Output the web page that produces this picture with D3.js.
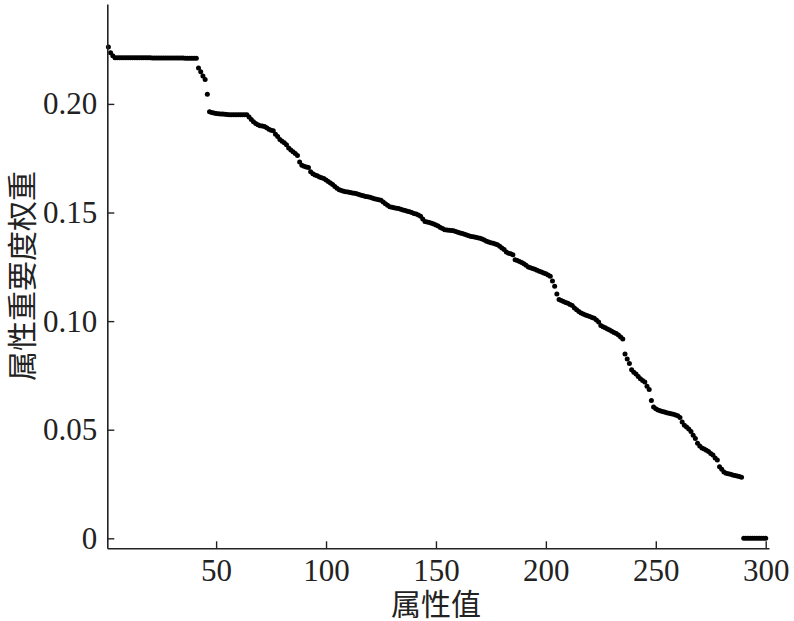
<!DOCTYPE html>
<html>
<head>
<meta charset="utf-8">
<script src="https://cdn.jsdelivr.net/npm/d3@7"></script>
<style>
  body { margin: 0; background: #fff; }
  svg { display: block; }
  .tick-label { font-family: "Liberation Serif", "DejaVu Serif", serif; font-size: 31px; fill: #222; }
  .axis-title { font-family: "Noto Sans CJK SC", sans-serif; font-size: 30px; fill: #222; }
</style>
</head>
<body>
<div id="chart"></div>
<script>
// attribute importance weights, sorted (index 1..300)
var weights = [
  0.2262, 0.2235, 0.2222,
  0.2212, 0.2212, 0.2212, 0.2212, 0.2212, 0.2212, 0.2212, 0.2212, 0.2212, 0.2212,
  0.2212, 0.2212, 0.2212, 0.2212, 0.2212, 0.2212, 0.2212, 0.2211, 0.2211, 0.2211,
  0.2211, 0.2211, 0.2211, 0.2211, 0.2211, 0.2211, 0.2211, 0.2211, 0.2211, 0.2211,
  0.2211, 0.2211, 0.2210, 0.2210, 0.2210, 0.2210, 0.2210, 0.2210,
  0.2165, 0.2148, 0.2128, 0.2112, 0.2045,
  0.1964, 0.1960, 0.1958, 0.1956, 0.1955, 0.1954, 0.1953, 0.1952, 0.1951,
  0.1950, 0.1950, 0.1950, 0.1950, 0.1950, 0.1950, 0.1950, 0.1950, 0.1950,
  0.1940, 0.1928, 0.1918, 0.1910, 0.1904, 0.1900, 0.1898, 0.1896, 0.1890, 0.1883,
  0.1879, 0.1877, 0.1860, 0.1850, 0.1836, 0.1828, 0.1821, 0.1812, 0.1797, 0.1788,
  0.1780, 0.1772, 0.1762, 0.1732, 0.1718, 0.1713, 0.1710, 0.1707, 0.1688, 0.1679,
  0.1673, 0.1669, 0.1664, 0.1660, 0.1657, 0.1650,
  0.1643, 0.1636, 0.1629, 0.1620, 0.1612, 0.1605, 0.1601, 0.1598, 0.1596, 0.1594,
  0.1592, 0.1590, 0.1589, 0.1586, 0.1583, 0.1580, 0.1577, 0.1574, 0.1572, 0.1570,
  0.1567, 0.1563, 0.1561, 0.1559, 0.1557, 0.1548, 0.1540, 0.1533, 0.1527, 0.1524,
  0.1522, 0.1520, 0.1518, 0.1515, 0.1512, 0.1509, 0.1506, 0.1504, 0.1500, 0.1496,
  0.1493, 0.1489, 0.1483, 0.1470, 0.1459, 0.1456, 0.1454, 0.1451, 0.1447, 0.1443,
  0.1438, 0.1431, 0.1426, 0.1421, 0.1419, 0.1418, 0.1417, 0.1416, 0.1413, 0.1409,
  0.1406, 0.1403, 0.1400, 0.1397, 0.1393, 0.1390, 0.1388, 0.1386, 0.1384, 0.1381,
  0.1378, 0.1373, 0.1368, 0.1364, 0.1361, 0.1358, 0.1355, 0.1351, 0.1345, 0.1337,
  0.1330, 0.1318, 0.1313, 0.1310, 0.1306, 0.1283, 0.1279, 0.1275, 0.1270, 0.1264,
  0.1257, 0.1249, 0.1246, 0.1242, 0.1239, 0.1234, 0.1229, 0.1226, 0.1222, 0.1218,
  0.1212, 0.1206, 0.1185, 0.1160, 0.1125, 0.1100, 0.1095, 0.1090, 0.1086, 0.1082,
  0.1077, 0.1072, 0.1060, 0.1052, 0.1044, 0.1037, 0.1033, 0.1028, 0.1025, 0.1021,
  0.1017, 0.1013, 0.1005, 0.0996, 0.0980, 0.0974, 0.0969, 0.0964, 0.0959, 0.0953,
  0.0948, 0.0943, 0.0936, 0.0927, 0.0918, 0.0849, 0.0825, 0.0805, 0.0776, 0.0765,
  0.0757, 0.0745, 0.0735, 0.0727, 0.0720, 0.0700, 0.0685, 0.0634, 0.0605, 0.0596,
  0.0591, 0.0587, 0.0584, 0.0581, 0.0578, 0.0576, 0.0574, 0.0571, 0.0568, 0.0564,
  0.0556, 0.0535, 0.0520, 0.0512, 0.0503, 0.0492, 0.0475, 0.0460, 0.0438, 0.0425,
  0.0416, 0.0411, 0.0406, 0.0400, 0.0391, 0.0383, 0.0370, 0.0360, 0.0330, 0.0318,
  0.0305, 0.0300, 0.0297, 0.0295, 0.0292, 0.0289, 0.0287, 0.0284, 0.0281,
  0, 0, 0, 0, 0, 0, 0, 0, 0, 0, 0
];
var xTicks = [50, 100, 150, 200, 250, 300];
var yTicks = [0, 0.05, 0.10, 0.15, 0.20];
var yTickLabels = ["0", "0.05", "0.10", "0.15", "0.20"];
var xTitle = "属性值";
var yTitle = "属性重要度权重";

var width = 794, height = 621;
var plotLeft = 107.3, plotRight = 769, plotTop = 4, plotBottom = 548.3;

var svg = d3.select("#chart").append("svg")
    .attr("width", width)
    .attr("height", height);

var x = d3.scaleLinear().domain([0.5, 301.5]).range([plotLeft, plotRight]);
var y = d3.scaleLinear().domain([-0.0046, 0.246]).range([plotBottom, plotTop]);

var data = weights.map(function(w, i) { return {idx: i + 1, w: w}; });

// points
svg.append("g").selectAll("circle")
    .data(data)
  .enter().append("circle")
    .attr("cx", function(d) { return x(d.idx); })
    .attr("cy", function(d) { return y(d.w); })
    .attr("r", 2.5)
    .attr("fill", "#000");

// axes (ticks pointing inward, no box)
var xAxis = svg.append("g")
    .attr("transform", "translate(0," + plotBottom + ")")
    .call(d3.axisBottom(x).tickValues(xTicks).tickSizeInner(-7).tickSizeOuter(0));
var yAxis = svg.append("g")
    .attr("transform", "translate(" + plotLeft + ",0)")
    .call(d3.axisLeft(y).tickValues(yTicks).tickSizeInner(-7).tickSizeOuter(0)
      .tickFormat(function(d, i) { return yTickLabels[i]; }));

[xAxis, yAxis].forEach(function(a) {
  a.attr("font-size", null).attr("font-family", null);
  a.select(".domain").attr("stroke", "#222").attr("stroke-width", 1.6);
  a.selectAll(".tick line").attr("stroke", "#222").attr("stroke-width", 1.4);
  a.selectAll(".tick text").attr("class", "tick-label");
});
xAxis.selectAll(".tick text").attr("dy", "0.71em").attr("y", 11);
yAxis.selectAll(".tick text").attr("x", -10);

// titles
svg.append("text")
    .attr("class", "axis-title")
    .attr("x", 436)
    .attr("y", 602)
    .attr("text-anchor", "middle")
    .attr("dominant-baseline", "central")
    .text(xTitle);

svg.append("text")
    .attr("class", "axis-title")
    .attr("font-size", 31)
    .attr("transform", "translate(20,276) rotate(-90)")
    .attr("text-anchor", "middle")
    .attr("dominant-baseline", "central")
    .text(yTitle);
</script>
</body>
</html>
